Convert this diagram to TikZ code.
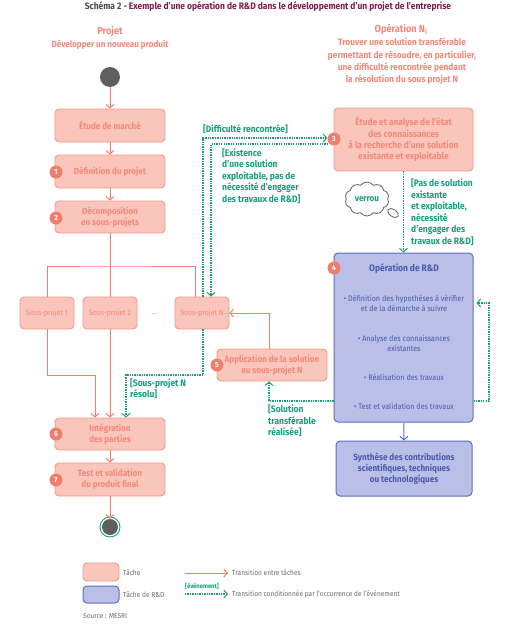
\documentclass[tikz,border=0pt]{standalone}
\usepackage{fontspec}
\setmainfont{Fira Sans}[FakeStretch=0.9]
\usetikzlibrary{arrows.meta,shapes.symbols,calc}
\definecolor{salF}{HTML}{FAC6BB}
\definecolor{salB}{HTML}{F3988B}
\definecolor{salT}{HTML}{F2897B}
\definecolor{salA}{HTML}{F07E6E}
\definecolor{badgeC}{HTML}{F07E6C}
\definecolor{grn}{HTML}{14A07A}
\definecolor{bluF}{HTML}{B9BFE6}
\definecolor{bluB}{HTML}{5C6EBF}
\definecolor{bluT}{HTML}{4A5CAE}
\definecolor{titG}{HTML}{4A4A4A}
\definecolor{titP}{HTML}{7B1E4B}
\definecolor{darkC}{HTML}{5F5F5F}
\definecolor{legT}{HTML}{6C6C6C}
\tikzset{
  task/.style={draw=salB, fill=salF, line width=0.9pt, rounded corners=4pt, text=salT,
    font=\fontsize{9}{11}\selectfont\bfseries, align=center, inner sep=0pt},
  subtask/.style={task, font=\fontsize{7.7}{8}\selectfont},
  rdtask/.style={draw=bluB, fill=bluF, line width=1pt, rounded corners=4pt, text=bluT,
    font=\fontsize{9}{11}\selectfont\bfseries, align=center, inner sep=0pt},
  rdtxt/.style={text=bluT, font=\fontsize{8}{10}\selectfont, align=center, inner sep=0pt},
  badge/.style={circle, fill=badgeC, text=white, font=\fontsize{7.5}{7.5}\selectfont\bfseries,
    inner sep=0pt, minimum size=13pt},
  flow/.style={draw=salA, line width=1pt},
  flowarrow/.style={flow, -{Straight Barb[length=3.5pt,width=8pt]}},
  evt/.style={draw=grn, line width=1.6pt, dash pattern=on 1.3pt off 1.1pt},
  evtarrow/.style={evt, -{Straight Barb[length=3.5pt,width=8pt,line width=1pt]}},
  lbl/.style={text=grn, font=\fontsize{9.4}{11.5}\selectfont\bfseries, align=left, inner sep=0pt},
  hdr/.style={text=salT, font=\fontsize{9.3}{12.3}\selectfont\bfseries, align=center, inner sep=0pt},
  legtxt/.style={text=legT, font=\fontsize{7.3}{8}\selectfont, anchor=west, inner sep=0pt}
}
\begin{document}
\begin{tikzpicture}[x=1pt,y=-1pt]
\useasboundingbox (0,0) rectangle (505,624);

% title and headers
\node[inner sep=0pt, font=\fontsize{9.4}{10}\selectfont\bfseries] (title) at (268,7)
  {\color{titG}Schéma 2 - \color{titP}Exemple d’une opération de R\&D dans le développement d’un projet de l’entreprise};
\node[hdr, font=\fontsize{10.2}{12}\selectfont\bfseries] (hprojet) at (110,31) {Projet};
\node[hdr, font=\fontsize{9}{12}\selectfont\bfseries] (hprojet2) at (110,45) {Développer un nouveau produit};
\node[hdr, font=\fontsize{10.2}{12}\selectfont\bfseries] (hop) at (401,29) {Opération N\textsubscript{i}};
\node[hdr] (hop2) at (402,61.5) {Trouver une solution transférable\\permettant de résoudre, en particulier,\\une difficulté rencontrée pendant\\la résolution du sous projet N};

% left column
\node[circle, fill=darkC, minimum size=20pt, inner sep=0pt] (start) at (110,77) {};
\node[task, minimum width=110pt, minimum height=33pt] (etude) at (110,125.5) {Étude de marché};
\node[task, minimum width=110pt, minimum height=33pt] (defi) at (110,171.5) {Définition du projet};
\node[task, minimum width=110pt, minimum height=32pt] (decomp) at (110,217) {Décomposition\\en sous-projets};
\node[subtask, minimum width=54pt, minimum height=32pt] (sp1) at (47,313) {Sous-projet 1};
\node[subtask, minimum width=54pt, minimum height=32pt] (sp2) at (110,313) {Sous-projet 2};
\node[subtask, minimum width=54pt, minimum height=32pt] (spN) at (202,313) {Sous-projet N};
\node[text=salT, font=\fontsize{8.5}{8}\selectfont, inner sep=0pt] (dots) at (155,314) {...};
\node[task, minimum width=110pt, minimum height=32pt] (integ) at (110,434) {Intégration\\des parties};
\node[task, minimum width=110pt, minimum height=33pt] (testv) at (110,479.5) {Test et validation\\du produit final};
\node[circle, fill=darkC, minimum size=16pt, inner sep=0pt] (fin) at (110,527) {};
\draw[grn, line width=0.9pt] (fin.center) circle (10pt);

% right column
\node[task, minimum width=139pt, minimum height=63pt, font=\fontsize{9.3}{11.3}\selectfont\bfseries] (box3) at (403.5,139.5)
  {Étude et analyse de l’état\\des connaissances\\à la recherche d’une solution\\existante et exploitable};
\node[rdtask, minimum width=139pt, minimum height=169pt] (box4) at (403.5,337.5) {};
\node[rdtask, draw=none, fill=none, font=\fontsize{9.4}{11}\selectfont\bfseries] (box4t) at (404,269) {Opération de R\&D};
\node[rdtxt] (bul1) at (404,303.5) {• Définition des hypothèses à vérifier\\et de la démarche à suivre};
\node[rdtxt] (bul2) at (404,343) {• Analyse des connaissances\\existantes};
\node[rdtxt] (bul3) at (404,377) {• Réalisation des travaux};
\node[rdtxt] (bul4) at (404,406) {• Test et validation des travaux};
\node[task, minimum width=110pt, minimum height=32pt] (app) at (272,365) {Application de la solution\\au sous-projet N};
\node[rdtask, minimum width=136pt, minimum height=55pt] (synth) at (404,468.5)
  {Synthèse des contributions\\scientifiques, techniques\\ou technologiques};

% cloud
\node[cloud, draw=darkC, fill=white, line width=0.8pt, cloud puffs=10, cloud puff arc=110, aspect=1.4,
  minimum width=44pt, minimum height=34pt, inner sep=0pt, text=grn,
  font=\fontsize{9}{10}\selectfont\bfseries] (verrou) at (367,199) {verrou};
\draw[darkC, line width=0.8pt, fill=white, rotate around={-35:(393,213)}] (393,213) ellipse (6 and 3.5);

% badges
\node[badge] (b1) at (56,172) {1};
\node[badge] (b2) at (56,218) {2};
\node[badge] (b3) at (334,139) {3};
\node[badge] (b4) at (334,268) {4};
\node[badge] (b5) at (217,365) {5};
\node[badge] (b6) at (56,434) {6};
\node[badge] (b7) at (56,480) {7};

% salmon transitions
\draw[flowarrow] (start) -- (etude);
\draw[flowarrow] (etude) -- (defi);
\draw[flowarrow] (defi) -- (decomp);
\coordinate (split) at (110,266);
\draw[flow] (decomp.south) -- (split);
\draw[flow] (sp1.north) |- (split) -| ([xshift=-7pt]spN.north);
\draw[flow] (split) -- (sp2.north);
\coordinate (j1) at (95,375);
\draw[flowarrow] (sp1.south) |- (j1) -- (j1 |- integ.north);
\draw[flowarrow] (sp2) -- (integ);
\draw[flowarrow] (integ) -- (testv);
\draw[flowarrow] (testv) -- (fin);
\coordinate (a1) at (269,401);
\draw[flowarrow] (app.north -| a1) |- (spN.east);
\draw[draw=bluB, line width=1pt, -{Straight Barb[length=3.5pt,width=8pt]}] (box4) -- (synth);

% green event transitions
\coordinate (j2) at (126,375);
\draw[evtarrow] ([xshift=1pt]spN.south) |- (j2) -- (j2 |- integ.north);
\coordinate (d1) at (203,138);
\draw[evtarrow] ([xshift=1pt]spN.north) -- (d1) -- (b3.west |- d1);
\coordinate (e1) at (328,144);
\draw[evtarrow] (e1) -| ([xshift=9pt]spN.north);
\draw[evtarrow] (box3) -- (box4);
\coordinate (r1) at (489,401);
\coordinate (r2) at (489,303);
\draw[evtarrow] (box4.east |- r1) -- (r1) -- (r2) -- ([xshift=3pt]box4.east |- r2);
\draw[evtarrow] (box4.west |- a1) -- (a1) -- (a1 |- app.south);

% event labels
\node[lbl, anchor=west] (l1) at (203,129) {[Difficulté rencontrée]};
\node[lbl, anchor=west] (l2) at (222,176) {[Existence\\d’une solution\\exploitable, pas de\\nécessité d’engager\\des travaux de R\&D]};
\node[lbl, anchor=west] (l3) at (411,212) {[Pas de solution\\existante\\et exploitable,\\nécessité\\d’engager des\\travaux de R\&D]};
\node[lbl, anchor=west] (l4) at (130,388.5) {[Sous-projet N\\résolu]};
\node[lbl, anchor=west] (l5) at (268,421) {[Solution\\transférable\\réalisée]};

% legend
\node[task, minimum width=36pt, minimum height=18pt] (lg1) at (101,572) {};
\node[rdtask, minimum width=36pt, minimum height=17pt] (lg2) at (101,594.5) {};
\node[legtxt] (lgt1) at (123,573) {Tâche};
\node[legtxt] (lgt2) at (123,595) {Tâche de R\&D};
\coordinate (la1) at (185,573);
\coordinate (la2) at (228,573);
\draw[flowarrow] (la1) -- (la2);
\node[legtxt] (lgt3) at (232,573) {Transition entre tâches};
\node[lbl, anchor=west, font=\fontsize{6.5}{7}\selectfont\bfseries] (lgev) at (185,586) {[évènement]};
\coordinate (lb1) at (185,594);
\coordinate (lb2) at (228,594);
\draw[evtarrow] (lb1) -- (lb2);
\node[legtxt] (lgt4) at (232,594) {Transition conditionnée par l’occurrence de l’évènement};
\node[legtxt] (src) at (83,616) {Source : MESRI};
\end{tikzpicture}
\end{document}
